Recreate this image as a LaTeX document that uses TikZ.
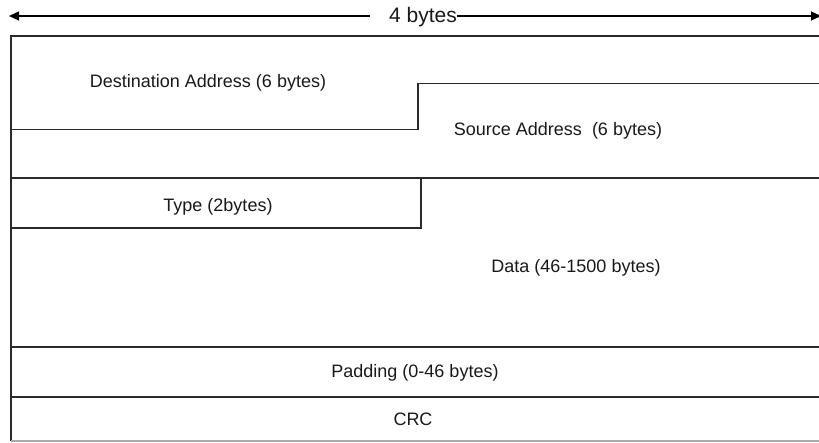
\documentclass[tikz,border=0pt]{standalone}
\usepackage{fontspec}
\setmainfont{Liberation Sans}
\usetikzlibrary{arrows.meta}
\definecolor{ln}{HTML}{2a2a2a}
\tikzset{
  frame/.style={draw=ln, line width=1.5pt},
  lbl/.style={font=\fontsize{18}{21}\selectfont, text=black!90, inner sep=0pt},
  dim/.style={draw=black, line width=1.3pt, {Triangle[length=10pt,width=9pt]}-{Triangle[length=10pt,width=9pt]}}
}
\begin{document}
\begin{tikzpicture}[x=1pt,y=-1pt]
\useasboundingbox (0,0) rectangle (819,443);
% dimension arrow
\coordinate (aL) at (9,16);
\coordinate (aR) at (821,16);
\draw[dim] (aL) -- (aR);
\node[lbl, font=\fontsize{21}{24}\selectfont, fill=white, inner xsep=0pt, inner ysep=2pt, anchor=east] (w) at (457,17) {\hspace{19pt}4 bytes};
% frame
\draw[frame] (822,36) -- (11,36) -- (11,441);
\draw[draw=ln!40, line width=1.5pt] (11,441) -- (822,441);
% destination / source step
\draw[frame] (11,129.5) -- (418,129.5) -- (418,83.5) -- (822,83.5);
% full line under source
\draw[frame] (11,178) -- (822,178);
% type box
\draw[frame] (11,228) -- (421,228) -- (421,178);
% padding and crc
\draw[frame] (11,347) -- (822,347);
\draw[frame] (11,397) -- (822,397);
% labels
\node[lbl] (dst) at (208,83) {Destination Address (6 bytes)};
\node[lbl] (src) at (558,131) {Source Address\ \ (6 bytes)};
\node[lbl] (typ) at (218,207) {Type (2bytes)};
\node[lbl] (dat) at (576,268) {Data (46-1500 bytes)};
\node[lbl] (pad) at (415,373) {Padding (0-46 bytes)};
\node[lbl] (crc) at (413,419) {CRC};
\end{tikzpicture}
\end{document}
